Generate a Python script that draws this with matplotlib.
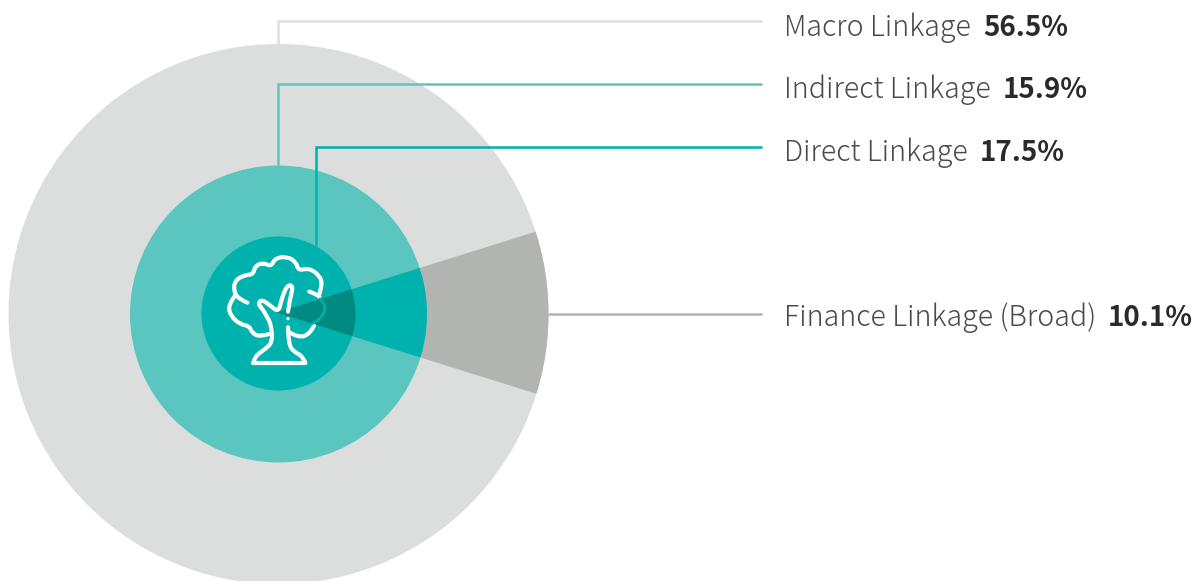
import matplotlib
matplotlib.use("Agg")
import matplotlib.pyplot as plt
from matplotlib.patches import Circle, Wedge, PathPatch
from matplotlib.path import Path

labels = ["Macro Linkage", "Indirect Linkage", "Direct Linkage", "Finance Linkage (Broad)"]
values = [56.5, 15.9, 17.5, 10.1]
finance_share = values[3]

W, H = 1196, 581
fig = plt.figure(figsize=(W / 100, H / 100), dpi=100, facecolor="white")
ax = fig.add_axes([0, 0, 1, 1])
ax.set_xlim(0, W)
ax.set_ylim(H, 0)
ax.axis("off")

cx, cy = 278.5, 314
R_out, R_mid, R_in = 270, 148.5, 77
# the wedge in the picture opens a little narrower than true scale, from a slightly offset apex
half = finance_share * 1.72
apex = (277, 312.6)

C_MACRO, C_FIN = "#DCDEDD", "#B2B4B1"
C_IND, C_DIR, C_DARK = "#5BC5BF", "#00B2AD", "#008A82"

for R, base_c, wedge_c in [(R_out, C_MACRO, C_FIN), (R_mid, C_IND, C_DIR), (R_in, C_DIR, C_DARK)]:
    disc = Circle((cx, cy - (0.5 if R == R_in else 0)), R, fc=base_c, lw=0)
    ax.add_patch(disc)
    w = Wedge(apex, R + 20, -half, half, fc=wedge_c, lw=0)
    ax.add_patch(w)
    w.set_clip_path(Circle((cx, cy), R, transform=ax.transData))

# leader lines
lw = 1.8
leaders = [
    ([278, 278, 762], [44, 21, 21], "#DDDFDE"),
    ([278, 278, 762], [165, 84, 84], C_IND),
    ([316, 316, 762], [246, 146.5, 146.5], C_DIR),
    ([548, 762], [314, 314], C_FIN),
]
for xs, ys, c in leaders:
    ax.plot(xs, ys, color=c, lw=lw, solid_joinstyle="miter", solid_capstyle="butt")

# tree icon (decoration)
def z(pts):
    return [(190 + x / 3, 230 + y / 3) for x, y in pts]

def smooth(pts):
    p = z(pts)
    v, c = [p[0]], [Path.MOVETO]
    for i in range(1, len(p) - 1):
        end = p[i + 1] if i == len(p) - 2 else ((p[i][0] + p[i + 1][0]) / 2, (p[i][1] + p[i + 1][1]) / 2)
        v += [p[i], end]
        c += [Path.CURVE3, Path.CURVE3]
    return Path(v, c)

def straight(pts):
    return Path(z(pts))

crown = [(172, 218), (146, 207), (130, 182), (136, 150), (165, 135), (190, 133), (195, 108), (220, 98),
         (243, 110), (256, 84), (292, 80), (318, 96), (325, 122), (358, 114), (390, 138), (397, 165), (388, 192)]
crown2 = [(358, 185), (375, 190), (388, 200)]
left_low = [(135, 197), (114, 225), (122, 258), (150, 283), (178, 288), (187, 310), (210, 320), (237, 312)]
right_low = [(372, 287), (360, 312), (325, 324), (295, 305)]
trunk_l = [(213, 232), (235, 262), (246, 300), (246, 338), (225, 358), (195, 378), (190, 399)]
base = [(190, 399), (346, 399)]
trunk_r = [(346, 399), (338, 378), (312, 366), (295, 342), (294, 292)]
branch = [(213, 232), (203, 222), (215, 208), (240, 226), (266, 247), (275, 205), (292, 164), (310, 168),
          (300, 205), (294, 245)]
for pts in [crown, crown2, left_low, right_low, trunk_l, trunk_r, branch]:
    ax.add_patch(PathPatch(smooth(pts), fc="none", ec="white", lw=3.0, capstyle="round", joinstyle="round"))
ax.add_patch(PathPatch(straight(base), fc="none", ec="white", lw=3.0, capstyle="round"))
ax.add_patch(Circle(z([(294, 266)])[0], 1.6, fc="white", lw=0))
ax.add_patch(PathPatch(smooth([(390, 206), (405, 222), (404, 245), (390, 268), (366, 282)]), fc="none",
                       ec=C_DIR, lw=1.8, capstyle="round"))

# labels
FONT = ["Noto Sans CJK JP", "DejaVu Sans"]
label_y = [36, 98, 161, 326]
value_x = [982.8, 1002.8, 980.2, 1107.5]
for name, val, y, vx in zip(labels, values, label_y, value_x):
    ax.text(784.2, y, name, fontsize=20.6, family=FONT, weight="light", color="#4A4A4C", va="baseline", ha="left")
    ax.text(vx, y, f"{val:.1f}%", fontsize=20.0, family=FONT, weight="bold", color="#2B2A2B", va="baseline", ha="left")

fig.savefig("out.png", dpi=100, facecolor="white")
